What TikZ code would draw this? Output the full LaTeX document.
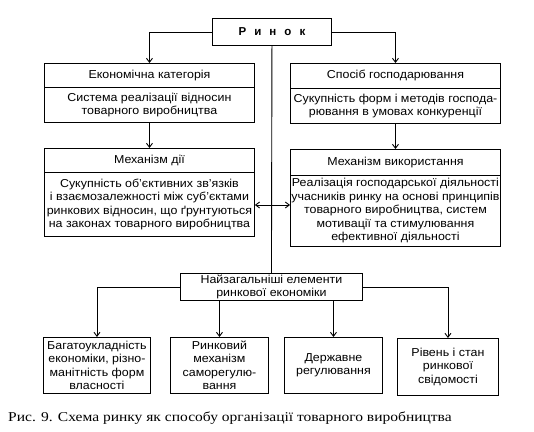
\documentclass[tikz,border=0pt]{standalone}
\usepackage{fontspec}
\setmainfont[FakeStretch=1.08]{Liberation Sans}
\newfontfamily\capfont[FakeStretch=1.15]{Liberation Serif}
\newfontfamily\spacedfont[LetterSpace=70]{Liberation Sans}
\usetikzlibrary{arrows.meta}
\tikzstyle{box}=[draw, line width=0.9pt, anchor=north west, align=center, inner xsep=0.5pt, inner ysep=1pt, font=\fontsize{11.5}{13.5}\selectfont]
\tikzstyle{arrow}=[draw=black, line width=0.9pt, -{Straight Barb[length=4pt,width=6pt]}]
\tikzstyle{line}=[draw=black, line width=0.9pt]

\begin{document}
\begin{tikzpicture}[x=1pt, y=-1pt]
	\useasboundingbox (0,0) rectangle (534,431);
	\begin{scope}
		% top
		\node (rynok) at (212,18)[box, minimum width=119pt, minimum height=27pt] {\spacedfont\bfseries Ринок};
		% left column
		\node (ekhead) at (44,63)[box, minimum width=210pt, minimum height=24pt] {Економічна категорія};
		\node (ekbody) at (44,87)[box, minimum width=210pt, minimum height=35pt] {Система реалізації відносин\\товарного виробництва};
		\node (mehead) at (44,148)[box, minimum width=210pt, minimum height=24pt] {Механізм дії};
		\node (mebody) at (44,172)[box, minimum width=210pt, minimum height=64pt] {Сукупність об’єктивних зв’язків\\і взаємозалежності між суб’єктами\\ринкових відносин, що ґрунтуються\\на законах товарного виробництва};
		% right column
		\node (sphead) at (290,63)[box, minimum width=210pt, minimum height=25pt] {Спосіб господарювання};
		\node (spbody) at (290,88)[box, minimum width=210pt, minimum height=35pt] {Сукупність форм і методів господа-\\рювання в умовах конкуренції};
		\node (mvhead) at (290,149)[box, minimum width=210pt, minimum height=26pt] {Механізм використання};
		\node (mvbody) at (290,175)[box, minimum width=210pt, minimum height=71pt] {Реалізація господарської діяльності\\учасників ринку на основі принципів\\товарного виробництва, систем\\мотивації та стимулювання\\ефективної діяльності};
		% elements
		\node (elem) at (180,273)[box, minimum width=182pt, minimum height=27pt] {Найзагальніші елементи\\ринкової економіки};
		\node (bagato) at (43,337)[box, minimum width=107pt, minimum height=56pt] {Багатоукладність\\економіки, різно-\\манітність форм\\власності};
		\node (mech) at (170,337)[box, minimum width=98pt, minimum height=56pt] {Ринковий\\механізм\\саморегулю-\\вання};
		\node (derzh) at (284,337)[box, minimum width=98pt, minimum height=56pt] {Державне\\регулювання};
		\node (riven) at (397,338)[box, minimum width=101pt, minimum height=57pt] {Рівень і стан\\ринкової\\свідомості};
		% caption
		\node (caption) at (8,418)[anchor=west, inner sep=0pt, font=\capfont\fontsize{13.5}{15}\selectfont] {Рис. 9. Схема ринку як способу організації товарного виробництва};
		\coordinate (mid) at (272,205);
	\end{scope}
	\begin{scope}
		\path [arrow] (rynok.west) -| (ekhead.north);
		\path [arrow] (rynok.east) -| (sphead.north);
		\path [arrow] (ekbody.south) -- (mehead.north);
		\path [arrow] (spbody.south) -- (mvhead.north);
		\path [line] (rynok.south) -- (elem.north);
		\path [arrow] (mid) -- (mebody.east |- mid);
		\path [arrow] (mid) -- (mvbody.west |- mid);
		\path [arrow] (elem.west) -| (bagato.north);
		\path [arrow] (elem.east) -| (riven.north);
		\path [arrow] (mech.north |- elem.south) -- (mech.north);
		\path [arrow] (derzh.north |- elem.south) -- (derzh.north);
	\end{scope}
\end{tikzpicture}
\end{document}
